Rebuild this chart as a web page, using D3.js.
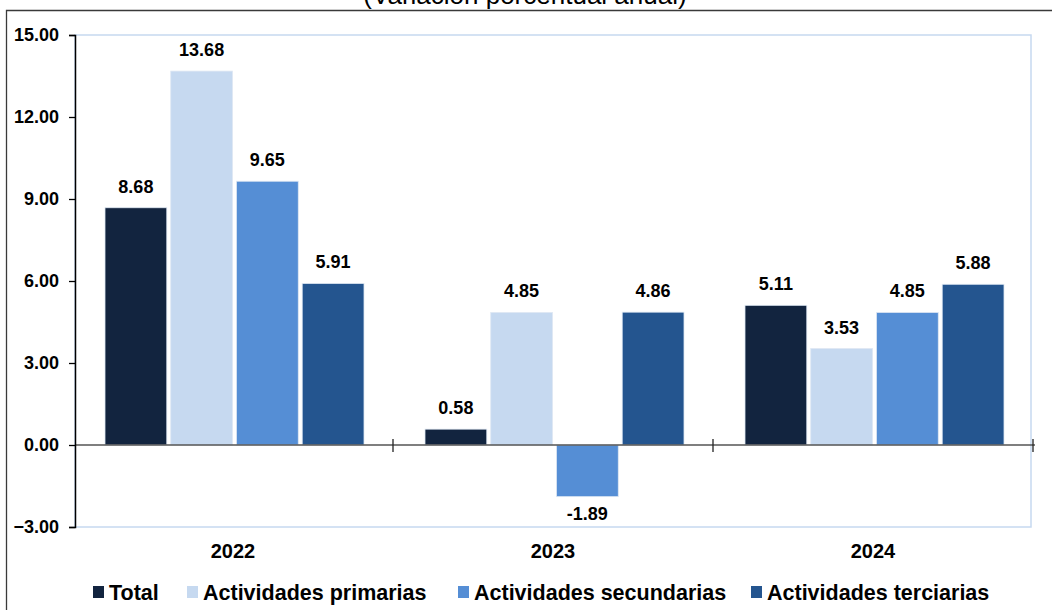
<!DOCTYPE html>
<html>
<head>
<meta charset="utf-8">
<script src="https://cdn.jsdelivr.net/npm/d3@7"></script>
<style>
  body { margin: 0; background: #fff; }
  text { font-family: "Liberation Sans", Arial, sans-serif; }
</style>
</head>
<body>
<div id="chart"></div>
<script>
// data
var years = ["2022", "2023", "2024"];
var seriesNames = ["Total", "Actividades primarias", "Actividades secundarias", "Actividades terciarias"];
var total = [8.68, 0.58, 5.11];
var primarias = [13.68, 4.85, 3.53];
var secundarias = [9.65, -1.89, 4.85];
var terciarias = [5.91, 4.86, 5.88];
var yTicks = [-3, 0, 3, 6, 9, 12, 15];
var colors = ["#12243f", "#c6d9f0", "#558ed5", "#24558f"];

var seriesValues = [total, primarias, secundarias, terciarias];

var svgWidth = 1052, svgHeight = 610;
var margin = {top: 35, right: 17, bottom: 83, left: 75};
var chartWidth = svgWidth - margin.left - margin.right;   // 960
var chartHeight = svgHeight - margin.top - margin.bottom;

var svg = d3.select('#chart')
    .append('svg')
    .attr('width', svgWidth)
    .attr('height', svgHeight);

// outer frame (cut at right / bottom)
svg.append('path')
    .attr('d', 'M6.5,' + svgHeight + ' V10.5 H' + svgWidth)
    .attr('fill', 'none')
    .attr('stroke', '#3a3a3a')
    .attr('stroke-width', 1.3);

// title, clipped at top
svg.append('text')
    .attr('x', 525)
    .attr('y', 4)
    .attr('text-anchor', 'middle')
    .style('font-size', '26px')
    .text('(Variación porcentual anual)');

var chart = svg.append('g').attr('transform', `translate(${margin.left}, ${margin.top})`);

var x = d3.scaleBand().domain(years).range([0, chartWidth]);
var xInner = d3.scaleBand().domain(seriesNames)
    .range([30, x.bandwidth() - 31])
    .paddingInner(0.06);
var y = d3.scaleLinear().domain([-3, 15]).range([chartHeight, 0]);

// plot area border
chart.append('rect')
    .attr('x', 0).attr('y', 0)
    .attr('width', chartWidth - 4).attr('height', chartHeight)
    .attr('fill', 'none')
    .attr('stroke', '#c6d9f0')
    .attr('stroke-width', 1.5);

// bars
var groups = chart.selectAll('.year')
    .data(years)
    .enter()
    .append('g')
    .attr('transform', d => `translate(${x(d)},0)`);

groups.each(function(yr, i) {
    var g = d3.select(this);
    var rows = seriesNames.map((s, k) => ({name: s, value: seriesValues[k][i], color: colors[k]}));
    g.selectAll('rect')
        .data(rows)
        .enter()
        .append('rect')
        .attr('x', d => xInner(d.name))
        .attr('width', xInner.bandwidth())
        .attr('y', d => y(Math.max(0, d.value)))
        .attr('height', d => Math.abs(y(d.value) - y(0)))
        .attr('fill', d => d.color)
        .attr('stroke', '#dfe8f3')
        .attr('stroke-width', 0.8);
    g.selectAll('text.val')
        .data(rows)
        .enter()
        .append('text')
        .attr('class', 'val')
        .attr('x', d => xInner(d.name) + xInner.bandwidth() / 2)
        .attr('y', d => d.value >= 0 ? y(d.value) - 15 : y(d.value) + 23)
        .attr('text-anchor', 'middle')
        .style('font-size', '18px')
        .style('font-weight', 'bold')
        .text(d => d.value.toFixed(2));
});

// zero line with category ticks
var zeroAxis = chart.append('g').attr('transform', `translate(0, ${y(0)})`);
zeroAxis.append('line')
    .attr('x1', 0).attr('x2', chartWidth)
    .attr('stroke', '#555').attr('stroke-width', 1.3);
zeroAxis.selectAll('line.tk')
    .data(years.map(d => x(d) + x.bandwidth() - 2))
    .enter()
    .append('line')
    .attr('class', 'tk')
    .attr('x1', d => d).attr('x2', d => d)
    .attr('y1', -6).attr('y2', 7)
    .attr('stroke', '#222').attr('stroke-width', 1.3);

// y axis
var leftAxis = d3.axisLeft(y).tickValues(yTicks).tickFormat(d3.format('.2f')).tickSize(6).tickPadding(10);
var yAxisG = chart.append('g').call(leftAxis);
yAxisG.select('.domain').attr('stroke', '#000').attr('stroke-width', 1.5);
yAxisG.selectAll('.tick line').attr('stroke', '#000').attr('stroke-width', 1.3);
yAxisG.selectAll('text')
    .style('font-size', '18px')
    .style('font-weight', 'bold')
    .style('font-family', '"Liberation Sans", Arial, sans-serif')
    .attr('fill', '#000');

// category labels
chart.selectAll('text.cat')
    .data(years)
    .enter()
    .append('text')
    .attr('class', 'cat')
    .attr('x', d => x(d) + x.bandwidth() / 2 - 2)
    .attr('y', chartHeight + 31)
    .attr('text-anchor', 'middle')
    .style('font-size', '20px')
    .style('font-weight', 'bold')
    .text(d => d);

// legend
var legendX = [93, 187, 458, 751];
var legend = svg.append('g').attr('transform', 'translate(0, 600)');
var items = legend.selectAll('g')
    .data(seriesNames)
    .enter()
    .append('g')
    .attr('transform', (d, i) => `translate(${legendX[i]},0)`);
items.append('rect')
    .attr('x', 0).attr('y', -14)
    .attr('width', 11).attr('height', 12)
    .attr('fill', (d, i) => colors[i]);
items.append('text')
    .attr('x', 16).attr('y', 0)
    .style('font-size', '21.5px')
    .style('font-weight', 'bold')
    .text(d => d);
</script>
</body>
</html>
